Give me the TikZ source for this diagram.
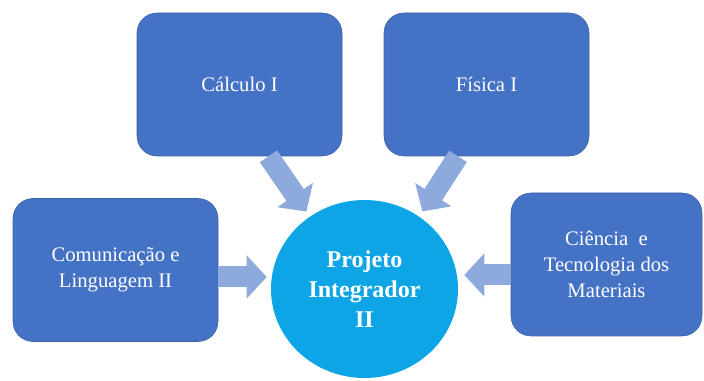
\documentclass[tikz,border=0pt]{standalone}
\usepackage{fontspec}
\setmainfont{Liberation Serif}
\usetikzlibrary{shapes.geometric,arrows.meta,calc}
\definecolor{azulcaixa}{HTML}{4472C4}
\definecolor{azulcentro}{HTML}{0EA5E6}
\definecolor{azulseta}{HTML}{8EA9DB}

\begin{document}
\begin{tikzpicture}
[x=0.75pt,y=-0.75pt%
,caixa/.style={fill=azulcaixa,%
	draw=azulcaixa!85!black,%
	rounded corners=15pt,%
	text=white,%
	align=center,%
	font=\fontsize{15.5}{19.5}\selectfont,%
	minimum width=153.75pt,%
	minimum height=107.25pt}%
,centro/.style={ellipse,%
	fill=azulcentro,%
	text=white,%
	align=center,%
	inner sep=0pt,%
	font=\fontsize{18}{22.5}\selectfont\bfseries,%
	minimum width=140.25pt,%
	minimum height=133.5pt}%
,seta/.style={draw=azulseta,%
	line width=15.75pt,%
	shorten >=4.5pt,%
	-{Triangle[width=31.5pt,length=15pt]}}]
\useasboundingbox (0,0) rectangle (704,381);
\node[centro] (proj) at (364.5,289) {Projeto\\Integrador\\II};
\node[caixa] (calc) at (239.5,84.5) {Cálculo I};
\node[caixa] (fis) at (486.5,84.5) {Física I};
\node[caixa] (com) at (115.5,270) {Comunicação e\\Linguagem II};
\node[caixa,minimum width=143.25pt] (cien) at (606.5,264.5) {Ciência~~e\\Tecnologia dos\\Materiais};
\coordinate (ce) at ($(com.east)+(0,7)$);
\coordinate (cw) at ($(cien.west)+(0,10.5)$);
\draw[seta] ($(calc.south)+(29,0)$) -- (proj.127);
\draw[seta] ($(fis.south)+(-28.5,0)$) -- (proj.53);
\draw[seta,shorten >=3pt] (ce) -- (ce -| proj.west);
\draw[seta] (cw) -- (cw -| proj.east);
\end{tikzpicture}
\end{document}
